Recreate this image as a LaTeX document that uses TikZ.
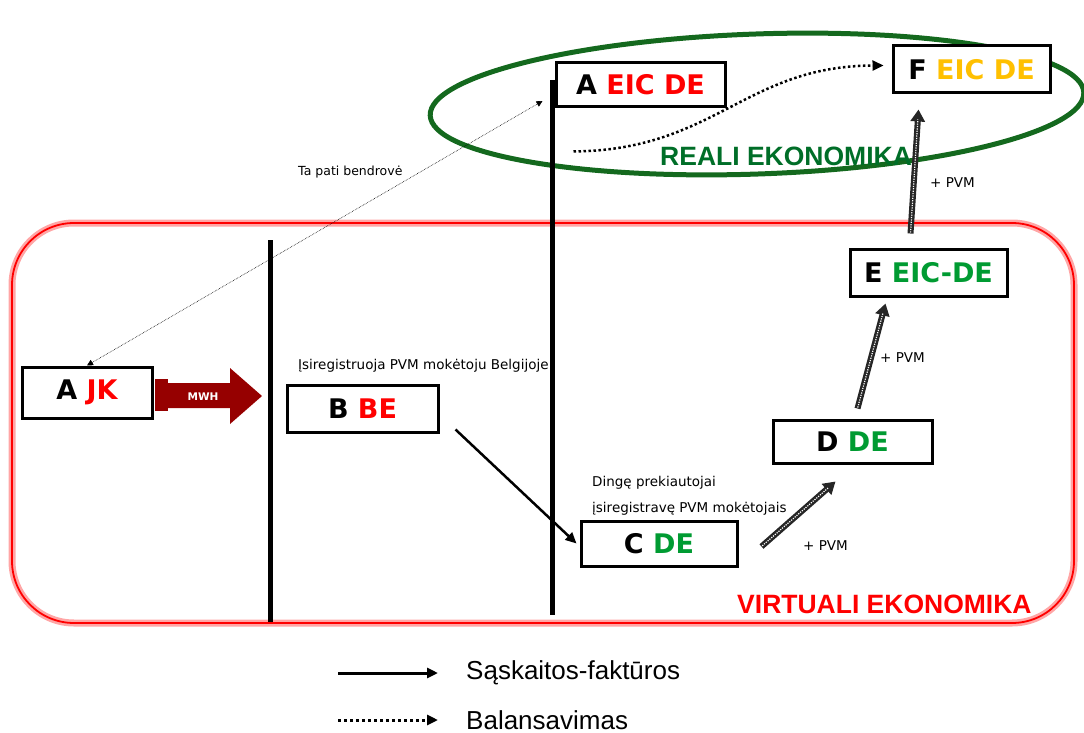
\documentclass[tikz,border=0pt]{standalone}
\usepackage{fontspec}
\setmainfont{DejaVu Sans}
\newfontfamily\arialf{Liberation Sans}
\usetikzlibrary{arrows.meta}
\definecolor{vred}{RGB}{255,0,0}
\definecolor{vgreen}{RGB}{0,155,50}
\definecolor{rgreen}{RGB}{0,110,40}
\definecolor{egreen}{RGB}{20,105,30}
\definecolor{vgold}{RGB}{255,192,0}
\definecolor{mwh}{RGB}{150,0,0}
\tikzset{
  firm/.style={draw,line width=3pt,fill=white,inner sep=0pt,font=\bfseries\fontsize{27}{29}\selectfont},
  note/.style={anchor=west,inner sep=0pt,font=\fontsize{13.5}{15}\selectfont},
  invoice/.style={line width=2.5pt,-{Triangle[length=11pt,width=10pt]}},
  balance/.style={line width=2.5pt,dash pattern=on 2.5pt off 2.5pt,-{Triangle[length=11pt,width=10pt]}},
  vat/.style={draw=black!85,line width=6pt,-{Triangle[length=12pt,width=14pt]},
    postaction={draw=white,line width=1.2pt,dash pattern=on 1.2pt off 1.2pt,-,shorten >=10pt,shorten <=1pt}}
}
\begin{document}
\begin{tikzpicture}[x=1pt,y=-1pt]
  \useasboundingbox (0,0) rectangle (1084,733);
  % zones
  \draw[red!35,line width=7pt,rounded corners=62pt] (12,223) rectangle (1074,623);
  \draw[vred,line width=1.8pt,rounded corners=62pt] (12,223) rectangle (1074,623);
  \draw[egreen,line width=5pt,rotate around={2:(757,104)}] (757,104) ellipse [x radius=327pt,y radius=70pt];
  \draw[line width=5pt] (270,240)--(270,622); \draw[line width=5pt] (552,80)--(552,615);
  % firms
  \node[firm,minimum width=130pt,minimum height=51pt] (ajk) at (87,392.5) {A \textcolor{vred}{JK}};
  \node[firm,minimum width=151pt,minimum height=47pt] (bbe) at (362.5,408.5) {B \textcolor{vred}{BE}};
  \node[firm,minimum width=156pt,minimum height=45pt] (cde) at (659,543.5) {C \textcolor{vgreen}{DE}};
  \node[firm,minimum width=159pt,minimum height=43pt] (dde) at (852.5,441.5) {D \textcolor{vgreen}{DE}};
  \node[firm,minimum width=157pt,minimum height=47pt] (eeic) at (928.5,272.5) {E \textcolor{vgreen}{EIC-DE}};
  \node[firm,minimum width=169pt,minimum height=44pt] (aeic) at (640.5,85) {A \textcolor{vred}{EIC DE}};
  \node[firm,minimum width=157pt,minimum height=47pt] (feic) at (971.5,69.5) {F \textcolor{vgold}{EIC DE}};
  % MWH arrow
  \fill[mwh] (155,379) rectangle (168,411);
  \fill[mwh] (168,383)--(230,383)--(230,368)--(262,396)--(230,424)--(230,408)--(168,408)--cycle;
  \node[text=white,font=\bfseries\fontsize{10.5}{12}\selectfont] (mwhl) at (203,397) {MWH};
  % flows
  \draw[densely dotted,line width=0.6pt,{Triangle[length=6pt,width=6pt]}-{Triangle[length=6pt,width=6pt]}]
    (ajk.north) -- ([xshift=-12pt,yshift=-16pt]aeic.west);
  \draw[invoice] ([xshift=16pt,yshift=4pt]bbe.south east) -- ([xshift=-3pt]cde.west);
  \draw[vat] ([xshift=23pt,yshift=-3pt]cde.east) -- ([xshift=-17pt,yshift=-17pt]dde.south);
  \draw[vat] ([xshift=5pt,yshift=10pt]dde.north) -- ([xshift=-43pt,yshift=-6pt]eeic.south);
  \draw[vat] ([xshift=-18pt,yshift=14pt]eeic.north) -- ([xshift=-53pt,yshift=-15pt]feic.south);
  \draw[balance] ([xshift=19pt,yshift=-43pt]aeic.south west) .. controls (715,150) and (745,66) .. ([xshift=-8pt,yshift=4pt]feic.west);
  % labels
  \node[note,font=\fontsize{12.5}{14}\selectfont] (same) at (298,172) {Ta pati bendrovė};
  \node[note] (regbe) at (298,366) {Įsiregistruoja PVM mokėtoju Belgijoje};
  \node[note] (miss1) at (592,483) {Dingę prekiautojai};
  \node[note] (miss2) at (592,509) {įsiregistravę PVM mokėtojais};
  \node[note] (pvm1) at (803,546) {+ PVM};
  \node[note] (pvm2) at (880,358) {+ PVM};
  \node[note] (pvm3) at (930,183) {+ PVM};
  \node[anchor=west,inner sep=0pt,text=rgreen,font=\arialf\bfseries\fontsize{26.5}{28}\selectfont] (real) at (660,156) {REALI EKONOMIKA};
  \node[anchor=west,inner sep=0pt,text=vred,font=\arialf\bfseries\fontsize{26.5}{28}\selectfont] (virt) at (737,604) {VIRTUALI EKONOMIKA};
  % legend
  \coordinate (l1a) at (338,673); \coordinate (l1b) at (438,673);
  \coordinate (l2a) at (338,720); \coordinate (l2b) at (438,720);
  \draw[invoice,line width=3pt] (l1a) -- (l1b);
  \draw[balance,line width=3pt,dash pattern=on 3pt off 3pt] (l2a) -- (l2b);
  \node[anchor=west,inner sep=0pt,font=\arialf\fontsize{26}{28}\selectfont] (leg1) at (466,673) {Sąskaitos-faktūros};
  \node[anchor=west,inner sep=0pt,font=\arialf\fontsize{26}{28}\selectfont] (leg2) at (466,720) {Balansavimas};
\end{tikzpicture}
\end{document}
